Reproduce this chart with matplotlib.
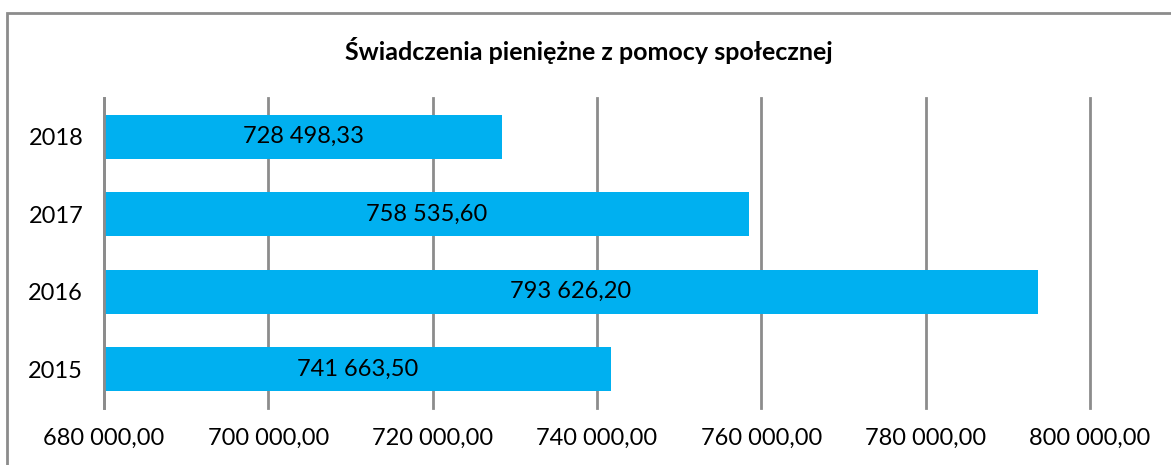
import matplotlib
matplotlib.use("Agg")
import matplotlib.pyplot as plt
from matplotlib.patches import Rectangle
from matplotlib.ticker import FuncFormatter

years = ["2015", "2016", "2017", "2018"]
values = [741663.50, 793626.20, 758535.60, 728498.33]
x_ticks = [680000, 700000, 720000, 740000, 760000, 780000, 800000]
title = "Świadczenia pieniężne z pomocy społecznej"

plt.rcParams['font.family'] = ['Lato', 'DejaVu Sans']

def fmt_pl(v):
    s = f"{v:,.2f}"
    return s.replace(",", " ").replace(".", ",")

W, H = 1171, 465
fig = plt.figure(figsize=(W / 100, H / 100), dpi=100)
ax = fig.add_axes([104 / W, 1 - 408 / H, (1090 - 104) / W, (408 - 98) / H])

grid_c = "#8c8c8c"
ypos = list(range(len(years)))
ax.barh(ypos, values, height=0.57, color="#00b0f0", zorder=3, left=0)
ax.set_xlim(680000, 800000)
ax.set_ylim(-0.5, 3.5)
ax.set_xticks(x_ticks)
ax.xaxis.set_major_formatter(FuncFormatter(lambda v, p: fmt_pl(v)))
ax.set_yticks(ypos)
ax.set_yticklabels(years)
ax.grid(axis="x", color=grid_c, linewidth=2, zorder=1)
for gl in ax.get_xgridlines():
    gl.set_clip_on(False)
for s in ["top", "right", "bottom"]:
    ax.spines[s].set_visible(False)
ax.spines["left"].set_color(grid_c)
ax.spines["left"].set_linewidth(2)
ax.spines["left"].set_zorder(4)
ax.tick_params(axis="x", length=0, pad=14, labelsize=17)
ax.tick_params(axis="y", length=0, pad=15, labelsize=17)

for y, v in zip(ypos, values):
    ax.text((680000 + v) / 2, y, fmt_pl(v), ha="center", va="center",
            fontsize=17, color="black", zorder=5)

fig.text(589 / W, 1 - 51 / H, title, ha="center", va="center",
         fontsize=18, fontweight="bold")

fig.patches.append(Rectangle((7 / W, -0.1), 1.2, 1 - 13 / H + 0.1,
                             transform=fig.transFigure, fill=False,
                             edgecolor="#8c8c8c", linewidth=2))

fig.savefig("out.png", dpi=100)
